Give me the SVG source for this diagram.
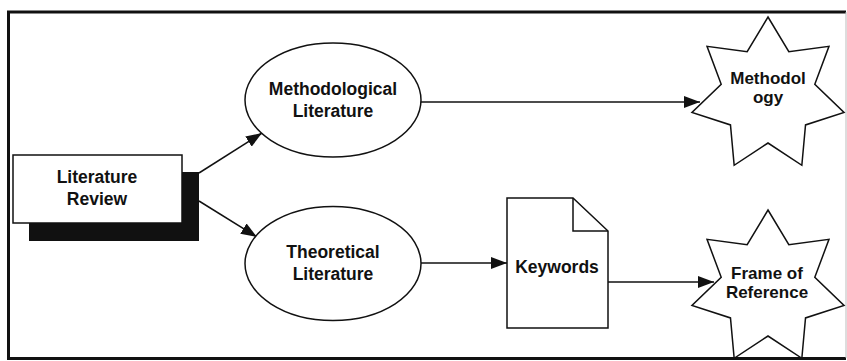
<svg xmlns="http://www.w3.org/2000/svg" width="847" height="361" viewBox="0 0 847 361">
<style>
.ln{fill:none;stroke:#111;stroke-width:1.5}
.sh{fill:#fff;stroke:#111;stroke-width:1.5}
.tx{font-family:"Liberation Sans",Arial,sans-serif;font-weight:bold;font-size:17.5px;fill:#111;text-anchor:middle}
.st{font-size:17px}
</style>
<defs>
<marker id="ah" markerUnits="userSpaceOnUse" markerWidth="18" markerHeight="12" refX="16" refY="6" orient="auto">
<path d="M0,0 L16,6 L0,12 Z" fill="#111"/>
</marker>
<polygon id="star" points="0,-78 20.83,-43.25 60.98,-48.63 46.8,-10.68 76.04,17.36 37.53,29.93 33.84,70.28 0,48 -33.84,70.28 -37.53,29.93 -76.04,17.36 -46.8,-10.68 -60.98,-48.63 -20.83,-43.25"/>
</defs>
<rect width="847" height="361" fill="#fff"/>
<g id="frame">
<path d="M846,12 L8.5,12 L8.5,358.5 L846,358.5" fill="none" stroke="#111" stroke-width="3"/>
<line x1="846" y1="12" x2="846" y2="358" stroke="#bbb" stroke-width="1"/>
</g>
<g id="connectors">
<line class="ln" x1="199" y1="173" x2="262" y2="133" marker-end="url(#ah)"/>
<line class="ln" x1="199" y1="201" x2="257" y2="237" marker-end="url(#ah)"/>
<line class="ln" x1="421" y1="102" x2="700" y2="102" marker-end="url(#ah)"/>
<line class="ln" x1="421" y1="263" x2="507" y2="263" marker-end="url(#ah)"/>
<line class="ln" x1="608" y1="282" x2="714" y2="282" marker-end="url(#ah)"/>
</g>
<g id="literature-review">
<rect x="29" y="172" width="170" height="69" fill="#111"/>
<rect class="sh" x="13" y="155" width="169" height="68"/>
<text class="tx" x="97" y="183">Literature</text>
<text class="tx" x="97" y="205">Review</text>
</g>
<g id="methodological-literature">
<ellipse class="sh" cx="333" cy="100" rx="88" ry="57"/>
<text class="tx" x="333" y="95">Methodological</text>
<text class="tx" x="333" y="117">Literature</text>
</g>
<g id="theoretical-literature">
<ellipse class="sh" cx="333" cy="263.5" rx="88" ry="57"/>
<text class="tx" x="333" y="258">Theoretical</text>
<text class="tx" x="333" y="280">Literature</text>
</g>
<g id="keywords">
<path class="sh" d="M507,198 L573,198 L608,231 L608,328 L507,328 Z"/>
<path class="ln" d="M573,198 L573,231 L608,231"/>
<text class="tx" x="557" y="273">Keywords</text>
</g>
<g id="methodology">
<use href="#star" class="sh" transform="translate(768,95)"/>
<text class="tx st" x="768" y="84">Methodol</text>
<text class="tx st" x="768" y="103">ogy</text>
</g>
<g id="frame-of-reference">
<use href="#star" class="sh" transform="translate(768,288)"/>
<text class="tx st" x="767" y="279">Frame of</text>
<text class="tx st" x="767" y="298">Reference</text>
</g>
</svg>
